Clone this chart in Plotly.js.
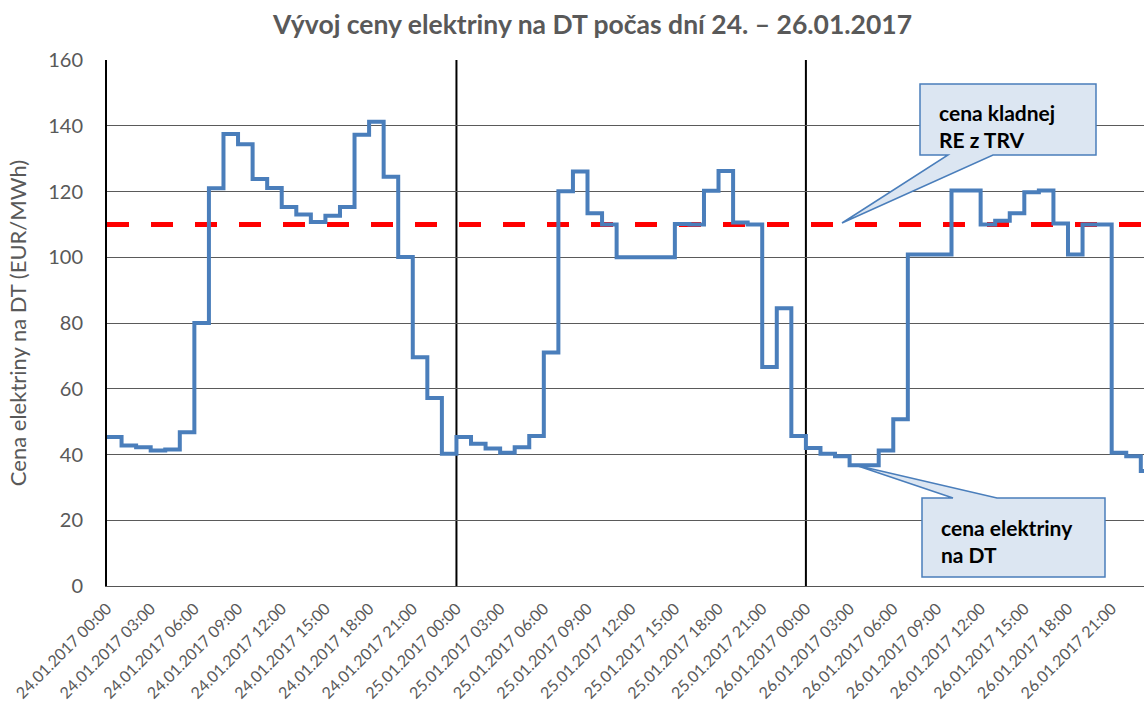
<!DOCTYPE html>
<html>
<head>
<meta charset="utf-8">
<script src="https://cdn.plot.ly/plotly-3.0.1.min.js"></script>
<style>html,body{margin:0;padding:0;background:#fff;}#chart{width:1144px;height:704px;}</style>
</head>
<body>
<div id="chart"></div>
<script>
// ---- data ----
const days = ["24.01.2017", "25.01.2017", "26.01.2017"];
const hoursPerDay = 24;
const priceDay1 = [45.3, 42.7, 42.2, 41.2, 41.5, 46.8, 80, 121, 137.5, 134.4, 123.8, 121.1,
                   115.3, 113, 110.7, 112.6, 115.3, 137.3, 141.2, 124.5, 100.1, 69.6, 57.2, 40.2];
const priceDay2 = [45.3, 43.3, 41.8, 40.5, 42.2, 45.6, 71, 120.1, 126.1, 113.4, 110, 100,
                   100, 100, 100, 110.1, 110, 120.2, 126.2, 110.6, 110, 66.6, 84.5, 45.6];
const priceDay3 = [42, 40.2, 39.5, 36.7, 36.7, 41.2, 50.7, 100.8, 100.8, 100.8, 120.3, 120.3,
                   110, 111.1, 113.4, 119.8, 120.3, 110.3, 100.8, 110, 110, 40.5, 39.5, 35];
const reThreshold = 110; // cena kladnej RE z TRV
const tickLabels = [
  "24.01.2017 00:00", "24.01.2017 03:00", "24.01.2017 06:00", "24.01.2017 09:00",
  "24.01.2017 12:00", "24.01.2017 15:00", "24.01.2017 18:00", "24.01.2017 21:00",
  "25.01.2017 00:00", "25.01.2017 03:00", "25.01.2017 06:00", "25.01.2017 09:00",
  "25.01.2017 12:00", "25.01.2017 15:00", "25.01.2017 18:00", "25.01.2017 21:00",
  "26.01.2017 00:00", "26.01.2017 03:00", "26.01.2017 06:00", "26.01.2017 09:00",
  "26.01.2017 12:00", "26.01.2017 15:00", "26.01.2017 18:00", "26.01.2017 21:00"
];
const yTitle = "Cena elektriny na DT (EUR/MWh)";
const chartTitle = "Vývoj ceny elektriny na DT počas dní 24. – 26.01.2017";

// ---- build ----
const prices = [].concat(priceDay1, priceDay2, priceDay3);
const xs = prices.map((_, i) => i);
xs.push(prices.length);
const ys = prices.concat([prices[prices.length - 1]]);
const tickVals = tickLabels.map((_, i) => i * 3);
const totalHours = days.length * hoursPerDay;

const FONT = "Lato, 'Open Sans', sans-serif";
const GRAY = "#595959";

// layout helpers (pixel -> paper)
const L = 107, R = 1144, T = 60, B = 586;
const px = x => (x - L) / (R - L);
const py = y => (B - y) / (B - T);
const path = pts => "M " + pts.map(p => px(p[0]).toFixed(5) + "," + py(p[1]).toFixed(5)).join(" L ") + " Z";

const shapes = [];
days.slice(1).forEach((_, i) => {
  const xd = (i + 1) * hoursPerDay;
  shapes.push({type: "line", xref: "x", yref: "paper", x0: xd, x1: xd, y0: 0, y1: 1,
               line: {color: "#000", width: 2}, layer: "below"});
});
shapes.push({type: "path", xref: "paper", yref: "paper", layer: "above",
  path: path([[920, 84], [1096, 84], [1096, 155], [993, 155], [842, 223], [948, 155], [920, 155]]),
  fillcolor: "#dce6f2", line: {color: "#4a7ebb", width: 1.5}});
shapes.push({type: "path", xref: "paper", yref: "paper", layer: "above",
  path: path([[922, 498], [953, 498], [855, 465], [997, 498], [1105, 498], [1105, 577], [922, 577]]),
  fillcolor: "#dce6f2", line: {color: "#4a7ebb", width: 1.5}});

const traces = [
  {x: [0, totalHours], y: [reThreshold, reThreshold], mode: "lines",
   line: {color: "#ff0000", width: 5, dash: "22px,22px"}, hoverinfo: "skip"},
  {x: xs, y: ys, mode: "lines", line: {color: "#4a7ebb", width: 4, shape: "hv"}}
];

const layout = {
  width: 1144, height: 704,
  margin: {l: L, r: 1144 - R, t: T, b: 704 - B},
  paper_bgcolor: "#fff", plot_bgcolor: "#fff",
  showlegend: false,
  title: {text: chartTitle, xref: "container", yref: "container", x: 0.518, y: 1 - 25 / 704,
          xanchor: "center", yanchor: "middle",
          font: {family: FONT, size: 26.5, color: GRAY, weight: 700}},
  xaxis: {range: [0, 71.22], tickmode: "array", tickvals: tickVals, ticktext: tickLabels,
          tickangle: -45, tickfont: {family: FONT, size: 16, color: GRAY},
          showgrid: false, zeroline: false, showline: true, linecolor: "#555", linewidth: 1,
          ticks: "", ticklabelstandoff: 6},
  yaxis: {range: [0, 160], dtick: 20, tick0: 0, tickfont: {family: FONT, size: 20, color: GRAY},
          showgrid: true, gridcolor: "#5a5a5a", gridwidth: 1, zeroline: false,
          showline: true, linecolor: "#000", linewidth: 2, ticks: "", ticklabelstandoff: 18,
          title: {text: yTitle, font: {family: FONT, size: 22, color: GRAY}, standoff: 15}},
  shapes: shapes,
  annotations: [
    {xref: "paper", yref: "paper", x: px(937), y: py(125.5), xanchor: "left", yanchor: "middle",
     text: "cena kladnej<br>RE z TRV", showarrow: false, align: "left",
     font: {family: FONT, size: 21, color: "#000", weight: 700}},
    {xref: "paper", yref: "paper", x: px(939), y: py(541), xanchor: "left", yanchor: "middle",
     text: "cena elektriny<br>na DT", showarrow: false, align: "left",
     font: {family: FONT, size: 21, color: "#000", weight: 700}}
  ]
};

Plotly.newPlot("chart", traces, layout, {displayModeBar: false, staticPlot: true});
</script>
</body>
</html>
